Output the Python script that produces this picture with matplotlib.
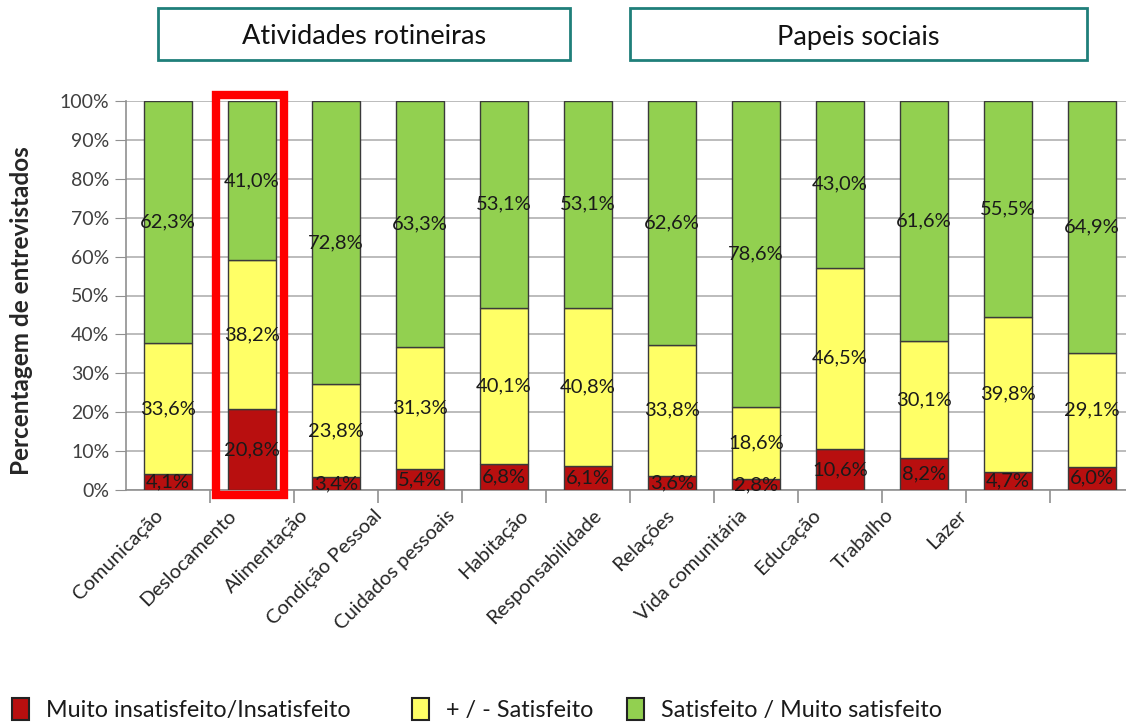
import matplotlib.pyplot as plt
from matplotlib.patches import Rectangle

categorias = ['Comunicação', 'Deslocamento', 'Alimentação', 'Condição Pessoal',
              'Cuidados pessoais', 'Habitação', 'Responsabilidade', 'Relações',
              'Vida comunitária', 'Educação', 'Trabalho', 'Lazer']
insatisfeito = [4.1, 20.8, 3.4, 5.4, 6.8, 6.1, 3.6, 2.8, 10.6, 8.2, 4.7, 6.0]
mais_menos = [33.6, 38.2, 23.8, 31.3, 40.1, 40.8, 33.8, 18.6, 46.5, 30.1, 39.8, 29.1]
satisfeito = [62.3, 41.0, 72.8, 63.3, 53.1, 53.1, 62.6, 78.6, 43.0, 61.6, 55.5, 64.9]
yticks = [0, 10, 20, 30, 40, 50, 60, 70, 80, 90, 100]

cores = ['#B80F0F', '#FFFF66', '#92D050']
legendas = ['Muito insatisfeito/Insatisfeito', '+ / - Satisfeito', 'Satisfeito / Muito satisfeito']

plt.rcParams['font.family'] = ['Lato', 'DejaVu Sans']

fig = plt.figure(figsize=(11.26, 7.24), dpi=100)
ax = fig.add_axes([126 / 1126, 1 - 490 / 724, 1008 / 1126, 389 / 724])

x = list(range(len(categorias)))
base = [0] * len(x)
for serie, cor in zip([insatisfeito, mais_menos, satisfeito], cores):
    ax.bar(x, serie, bottom=base, width=0.56, color=cor, edgecolor='#3a3a3a',
           linewidth=1, zorder=3)
    for i, v in enumerate(serie):
        ax.text(i, base[i] + v / 2, f'{v:.1f}%'.replace('.', ','), ha='center',
                va='center', fontsize=14.5, color='#1a1a1a', zorder=4)
    base = [b + v for b, v in zip(base, serie)]

ax.set_xlim(-0.5, len(x) - 0.5)
ax.set_ylim(0, 100)
ax.set_yticks(yticks)
ax.set_yticklabels([f'{t}%' for t in yticks], fontsize=14, color='#404040')
ax.yaxis.grid(True, color='#b0b0b0', linewidth=1.2, zorder=0)
ax.tick_params(axis='y', length=8, color='#909090', pad=4)

# the category labels run a little tighter than the bars
ax.set_xticks([i * 0.87 - 0.17 for i in x])
ax.set_xticklabels(categorias, rotation=45, ha='right', va='top',
                   rotation_mode='anchor', fontsize=14.5, color='#262626')
ax.tick_params(axis='x', length=0, pad=12)
ax.set_xticks([i + 0.5 for i in x], minor=True)
ax.tick_params(axis='x', which='minor', length=9, color='#909090', width=1.2)

for s in ['top', 'right']:
    ax.spines[s].set_visible(False)
ax.spines['left'].set_color('#909090')
ax.spines['bottom'].set_color('#909090')
ax.spines['left'].set_linewidth(1.2)
ax.spines['bottom'].set_linewidth(1.2)

ax.set_ylabel('Percentagem de entrevistados', fontsize=17.5, fontweight='bold',
              color='#262626')
ax.yaxis.set_label_coords(-0.092, 0.46)

# highlight around Deslocamento
fig.patches.append(Rectangle((216 / 1126, 1 - 495 / 724), 68 / 1126, 400 / 724,
                             transform=fig.transFigure, fill=False,
                             edgecolor='#FF0000', linewidth=6, zorder=10))

# group headers
for x0, x1, texto in [(158, 570, 'Atividades rotineiras'), (630, 1087, 'Papeis sociais')]:
    fig.patches.append(Rectangle((x0 / 1126, 1 - 60 / 724), (x1 - x0) / 1126, 52 / 724,
                                 transform=fig.transFigure, fill=False,
                                 edgecolor='#1F7F7A', linewidth=2))
    fig.text((x0 + x1) / 2 / 1126, 1 - 37 / 724, texto, ha='center', va='center',
             fontsize=19.5, color='#111111')

# legend along the bottom
for px, tx, cor, texto in zip([12, 412, 627], [46, 446, 661], cores, legendas):
    fig.patches.append(Rectangle((px / 1126, 1 - 720 / 724), 17 / 1126, 22 / 724,
                                 transform=fig.transFigure, facecolor=cor,
                                 edgecolor='#222222', linewidth=1.5))
    fig.text(tx / 1126, 1 - 710 / 724, texto, ha='left', va='center',
             fontsize=16.8, color='#1a1a1a')

fig.savefig('out.png', dpi=100)
